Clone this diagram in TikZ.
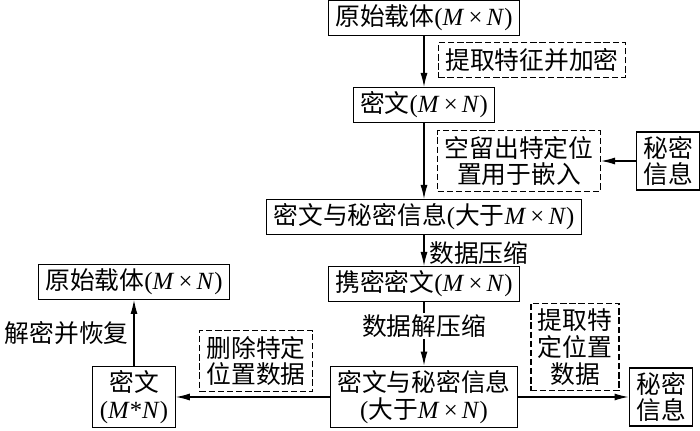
\documentclass[tikz,border=0pt]{standalone}
\usepackage{fontspec}
\setmainfont{Noto Sans CJK SC}
\newfontfamily\latfont{Liberation Serif}
\usetikzlibrary{arrows.meta}
\newcommand\mxn{{\latfont\textit{M}\,×\,\textit{N}}}
\newcommand\lp{{\latfont(}}
\newcommand\rp{{\latfont)}}

\tikzset{
    box/.style={draw, line width=0.9pt, inner xsep=5pt, inner ysep=3pt, align=center},
    dashbox/.style={draw, dash pattern=on 4.5pt off 2pt, line width=1pt, inner xsep=5pt, inner ysep=4pt, align=center},
    flow/.style={-{Latex[length=10pt,width=5pt]}, line width=0.9pt},
}

\begin{document}
\begin{tikzpicture}[x=0.025cm, y=-0.025cm, font=\fontsize{17.6}{19}\selectfont]
    \fill[white] (0,0) rectangle (700,431);
    \useasboundingbox (0,0) rectangle (700,431);

    % embedding side
    \node[box] (orig) at (424,18) {原始载体\lp\mxn\rp};
    \node[dashbox] (enc) at (532,60) {提取特征并加密};
    \node[box] (ct) at (424,105) {密文\lp\mxn\rp};
    \node[dashbox] (gap) at (519,161) {空留出特定位\\置用于嵌入};
    \node[box] (msg) at (668,161) {秘密\\信息};
    \node[box] (mix) at (424,217) {密文与秘密信息\lp 大于\mxn\rp};
    \node[box] (stego) at (424,284) {携密密文\lp\mxn\rp};

    % extraction side
    \node[box] (mixout) at (424,397) {密文与秘密信息\\\lp 大于\mxn\rp};
    \node[dashbox] (pick) at (575,347) {提取特\\定位置\\数据};
    \node[box] (msgout) at (661,397) {秘密\\信息};
    \node[box] (ctout) at (134,397) {密文\\{\latfont(\textit{M}*\textit{N})}};
    \node[dashbox] (del) at (256,361) {删除特定\\位置数据};
    \node[box] (origout) at (134,282) {原始载体\lp\mxn\rp};

    % arrows
    \draw[flow] (orig) -- (ct);
    \draw[flow] (ct) -- (mix);
    \draw[flow] (msg) -- (gap);
    \draw[flow] (mix) -- node[right, pos=0.6] {数据压缩} (stego);
    \draw[flow] (stego) -- node[fill=white, pos=0.38, inner sep=1pt] {数据解压缩} (mixout);
    \draw[flow] (mixout) -- (msgout);
    \draw[flow] (mixout) -- (ctout);
    \draw[flow] (ctout) -- node[left] {解密并恢复} (origout);
\end{tikzpicture}
\end{document}
